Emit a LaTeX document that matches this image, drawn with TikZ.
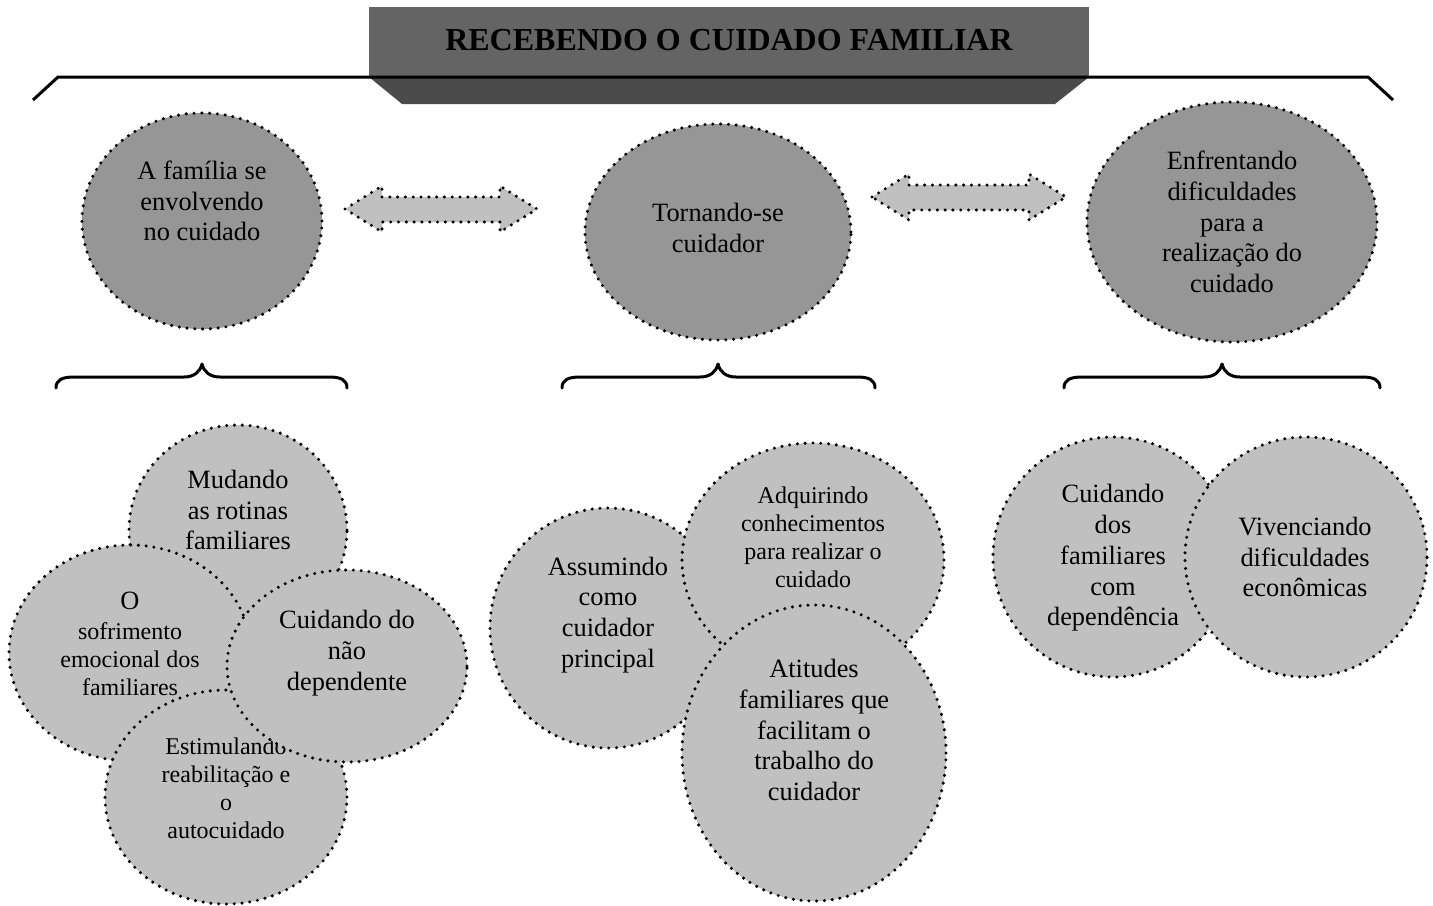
\documentclass[tikz,border=0pt]{standalone}
\usepackage{fontspec}
\setmainfont{Liberation Serif}
\usetikzlibrary{shapes.geometric}
\definecolor{topfill}{HTML}{969696}
\definecolor{subfill}{HTML}{C0C0C0}
\definecolor{bannerA}{HTML}{646464}
\definecolor{bannerB}{HTML}{4B4B4B}
\tikzset{
 dotline/.style={draw=black, line width=1.7pt, line cap=round, dash pattern=on 0pt off 3.9pt},
 topell/.style={ellipse, dotline, fill=topfill, inner sep=0pt, outer sep=0pt},
 subell/.style={ellipse, dotline, fill=subfill, inner sep=0pt, outer sep=0pt},
 maintxt/.style={align=center, inner sep=0pt, font=\fontsize{13.2}{15.4}\selectfont},
 smalltxt/.style={align=center, inner sep=0pt, font=\fontsize{12}{14}\selectfont},
 bracestroke/.style={line width=1.5pt, line cap=round, line join=round},
 dblarrow/.style={dotline, fill=subfill},
}
\newcommand\mybrace[3]{%
 \draw[bracestroke] (#1,388) .. controls (#1,380) and (#1+6,377) .. (#1+18,377)
  -- (#2-18,377) .. controls (#2-8,377) and (#2-2,372) .. (#2,364)
  .. controls (#2+2,372) and (#2+8,377) .. (#2+18,377)
  -- (#3-18,377) .. controls (#3-6,377) and (#3,380) .. (#3,388);}
\newcommand\mydbl[3]{% left tip x, right tip x, center y
 \draw[dblarrow] (#1,#3) -- (#1+37,#3-23) -- (#1+37,#3-12) -- (#2-37,#3-12) -- (#2-37,#3-23)
  -- (#2,#3) -- (#2-37,#3+23) -- (#2-37,#3+13) -- (#1+37,#3+13) -- (#1+37,#3+23) -- cycle;}
\begin{document}
\begin{tikzpicture}[x=0.5pt,y=-0.5pt]
\path[use as bounding box] (0,0) rectangle (1433,905);
% banner
\fill[bannerA] (369,7) rectangle (1089,77);
\fill[bannerB] (369,77) -- (1089,77) -- (1055,104) -- (402,104) -- cycle;
\node[inner sep=0pt, font=\fontsize{16}{18}\bfseries] (title) at (729,40) {RECEBENDO O CUIDADO FAMILIAR};
\coordinate (tl) at (33,100);
\coordinate (tr) at (1393,100);
\draw[line width=1.5pt] (tl) -- (58,77) -- (1368,77) -- (tr);
% top ellipses
\node[topell, minimum width=120pt, minimum height=108pt] (fam) at (202,221) {};
\node[maintxt] (famt) at (202,201) {A família se\\envolvendo\\no cuidado};
\node[topell, minimum width=133pt, minimum height=108pt] (torn) at (718,232) {};
\node[maintxt] (tornt) at (718,228) {Tornando-se\\cuidador};
\node[topell, minimum width=145pt, minimum height=120pt] (enf) at (1232,222) {};
\node[maintxt] (enft) at (1232,222) {Enfrentando\\dificuldades\\para a\\realização do\\cuidado};
% double arrows
\mydbl{345}{537}{209}
\mydbl{872}{1066}{197}
% braces
\mybrace{56}{202}{347}
\mybrace{562}{718}{875}
\mybrace{1064}{1222}{1380}
% left cluster
\node[subell, minimum width=109pt, minimum height=105pt] (mud) at (238,530) {};
\node[maintxt] (mudt) at (238,510) {Mudando\\as rotinas\\familiares};
\node[subell, minimum width=121pt, minimum height=108pt] (sof) at (130,653) {};
\node[maintxt] (soft1) at (130,601) {O};
\node[smalltxt] (soft2) at (130,659) {sofrimento\\emocional dos\\familiares};
\node[subell, minimum width=121pt, minimum height=107pt] (est) at (226,797) {};
\node[smalltxt] (estt) at (226,788) {Estimulando\\reabilitação e\\o\\autocuidado};
\node[subell, minimum width=120pt, minimum height=96pt] (cnd) at (347,666) {};
\node[maintxt] (cndt) at (347,653) {Cuidando do\\não\\dependente};
% middle cluster
\node[subell, minimum width=118pt, minimum height=120pt] (ass) at (608,628) {};
\node[maintxt] (asst) at (608,615) {Assumindo\\como\\cuidador\\principal};
\node[subell, minimum width=131pt, minimum height=117pt] (adq) at (813,560) {};
\node[smalltxt] (adqt) at (813,537) {Adquirindo\\conhecimentos\\para realizar o\\cuidado};
\node[subell, minimum width=132pt, minimum height=148pt] (ati) at (814,753) {};
\node[maintxt] (atit) at (814,730) {Atitudes\\familiares que\\facilitam o\\trabalho do\\cuidador};
% right cluster
\node[subell, minimum width=120pt, minimum height=120pt] (cdf) at (1113,557) {};
\node[maintxt] (cdft) at (1113,558) {Cuidando\\dos\\familiares\\com\\dependência};
\node[subell, minimum width=121pt, minimum height=120pt] (viv) at (1306,557) {};
\node[maintxt] (vivt) at (1305,557) {Vivenciando\\dificuldades\\econômicas};
\end{tikzpicture}
\end{document}
